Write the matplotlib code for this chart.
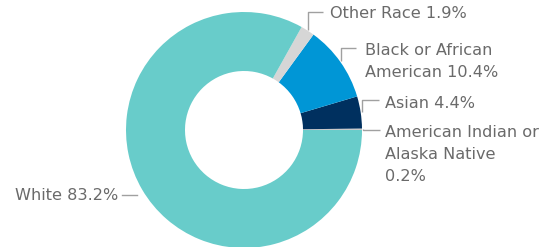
import numpy as np
import matplotlib.pyplot as plt

# data, counterclockwise from 3 o'clock
labels = ["American Indian or\nAlaska Native\n0.2%", "Asian 4.4%",
          "Black or African\nAmerican 10.4%", "Other Race 1.9%", "White 83.2%"]
values = [0.2, 4.4, 10.4, 1.9, 83.2]
colors = ["#c9c9c9", "#00305f", "#0096d6", "#d6d6d6", "#68ccca"]

W, H = 544, 247
cx, cy, R = 244, H - 130, 118

# label layout in pixel coords (y measured from the top);
# base_y is the baseline of the last text line
leader_y = [130, 100, 48, 12, 195]
base_y = [181, 108, 77, 18, 200]
label_x = [385, 385, 365, 330, 118]
leader_len = [17, 17, 15, 15, 15]

fig = plt.figure(figsize=(W / 100, H / 100), dpi=100)
ax = fig.add_axes([0, 0, 1, 1])

wedges, _ = ax.pie(values, colors=colors, startangle=0, counterclock=True,
                   center=(cx, cy), radius=R, frame=True,
                   wedgeprops=dict(width=R * 0.5, edgecolor="none"))
ax.set_xlim(0, W)
ax.set_ylim(0, H)
ax.axis("off")

line_c = "#a0a0a0"
text_c = "#6a6a6a"
for w, lab, ly, by, lx, ll in zip(wedges, labels, leader_y, base_y,
                                  label_x, leader_len):
    ang = np.deg2rad((w.theta1 + w.theta2) / 2)
    x0 = cx + (R + 1) * np.cos(ang)
    y0 = cy + (R + 1) * np.sin(ang)
    y1 = H - ly
    if x0 > cx:
        ax.plot([x0, x0, x0 + ll], [y0, y1, y1], color=line_c, lw=1,
                solid_capstyle="butt")
        ax.text(lx, H - by, lab, ha="left", va="baseline", fontsize=11.6,
                color=text_c, family="DejaVu Sans", linespacing=1.58)
    else:
        ax.plot([x0 - 4, x0 - 4 - ll], [y1, y1], color=line_c, lw=1)
        ax.text(lx, H - by, lab, ha="right", va="baseline", fontsize=11.6,
                color=text_c, family="DejaVu Sans")

fig.savefig("out.png", dpi=100)
